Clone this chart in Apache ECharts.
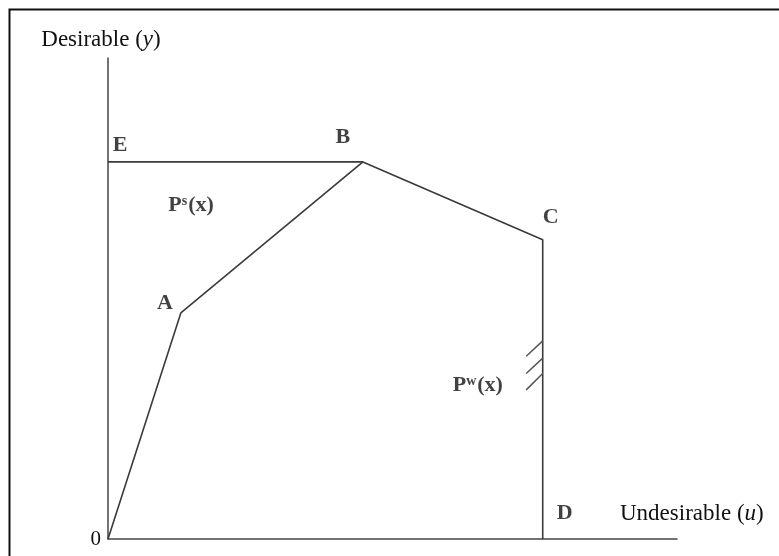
<!DOCTYPE html>
<html>
<head>
<meta charset="utf-8">
<script src="https://cdn.jsdelivr.net/npm/echarts@6/dist/echarts.min.js"></script>
<style>
  html, body { margin: 0; padding: 0; background: #fff; }
  #chart { width: 779px; height: 556px; }
</style>
</head>
<body>
<div id="chart"></div>
<script>
// points of the technology set, in (u, y) units
var pointNames = ['A', 'B', 'C', 'D', 'E'];
var pointU = [12.8, 44.8, 76.4, 76.4, 0];
var pointY = [47.0, 78.4, 62.2, 0, 78.4];

// frontier 0 -> A -> B -> C -> D
var frontierU = [0, 12.8, 44.8, 76.4, 76.4];
var frontierY = [0, 47.0, 78.4, 62.2, 0];

// horizontal line E -> B
var eLineU = [0, 44.8];
var eLineY = [78.4, 78.4];

// hatch marks on C-D segment (start u, start y, end u, end y)
var hatchU0 = [73.5, 73.5, 73.5];
var hatchY0 = [38.0, 34.4, 31.0];
var hatchU1 = [76.4, 76.4, 76.4];
var hatchY1 = [41.2, 37.6, 34.4];

// set labels P^s(x), P^w(x)
var regionSup = ['s', 'w'];
var regionU = [14.6, 65.0];
var regionY = [69.4, 32.0];

var serif = 'Liberation Serif';
var lineColor = '#3a3a3a';

var labelOffset = {
  A: [-16, -10],
  B: [-20, -25],
  C: [8, -23],
  D: [22, -26],
  E: [12, -17]
};

var chart = echarts.init(document.getElementById('chart'));

function pairs(us, ys) {
  return us.map(function (u, i) { return [u, ys[i]]; });
}

var hatchSeries = hatchU0.map(function (u, i) {
  return {
    type: 'line',
    data: [[u, hatchY0[i]], [hatchU1[i], hatchY1[i]]],
    symbol: 'none',
    silent: true,
    lineStyle: { color: '#555', width: 1.5 }
  };
});

var option = {
  animation: false,
  backgroundColor: '#fff',
  textStyle: { fontFamily: serif },
  grid: { left: 108, right: 102, top: 58, bottom: 17 },
  xAxis: {
    type: 'value',
    min: 0,
    max: 100,
    name: '{n|Undesirable (}{i|u}{n|)}',
    nameLocation: 'end',
    nameGap: -57,
    nameTextStyle: {
      align: 'left',
      verticalAlign: 'bottom',
      padding: [0, 0, 14, 0],
      rich: {
        n: { fontFamily: serif, fontSize: 23, color: '#111' },
        i: { fontFamily: serif, fontSize: 23, color: '#111', fontStyle: 'italic' }
      }
    },
    axisLine: { show: true, lineStyle: { color: '#444', width: 1.5 } },
    axisTick: { show: false },
    axisLabel: { show: false },
    splitLine: { show: false }
  },
  yAxis: {
    type: 'value',
    min: 0,
    max: 100,
    interval: 100,
    name: '{n|Desirable (}{i|y}{n|)}',
    nameLocation: 'end',
    nameGap: 7,
    nameTextStyle: {
      padding: [0, 14, 0, 0],
      rich: {
        n: { fontFamily: serif, fontSize: 23, color: '#111' },
        i: { fontFamily: serif, fontSize: 23, color: '#111', fontStyle: 'italic' }
      }
    },
    axisLine: { show: true, lineStyle: { color: '#444', width: 1.5 } },
    axisTick: { show: false },
    axisLabel: {
      show: true,
      margin: 7,
      fontFamily: serif,
      fontSize: 21,
      color: '#111',
      padding: [5, 0, 0, 0],
      formatter: function (v) { return v === 0 ? '0' : ''; }
    },
    splitLine: { show: false }
  },
  graphic: [
    {
      type: 'rect',
      silent: true,
      shape: { x: 9.5, y: 9.5, width: 900, height: 700 },
      style: { fill: 'none', stroke: '#111', lineWidth: 2 }
    }
  ],
  series: [
    {
      type: 'line',
      data: pairs(frontierU, frontierY),
      symbol: 'none',
      silent: true,
      lineStyle: { color: lineColor, width: 1.6 }
    },
    {
      type: 'line',
      data: pairs(eLineU, eLineY),
      symbol: 'none',
      silent: true,
      lineStyle: { color: lineColor, width: 1.6 }
    },
    {
      type: 'scatter',
      symbolSize: 0,
      silent: true,
      data: pointNames.map(function (n, i) {
        return {
          name: n,
          value: [pointU[i], pointY[i]],
          label: { offset: labelOffset[n] }
        };
      }),
      label: {
        show: true,
        position: 'inside',
        formatter: '{b}',
        fontFamily: serif,
        fontSize: 22,
        fontWeight: 'bold',
        color: '#111'
      }
    },
    {
      type: 'scatter',
      symbolSize: 0,
      silent: true,
      data: regionSup.map(function (s, i) {
        return { name: s, value: [regionU[i], regionY[i]] };
      }),
      label: {
        show: true,
        position: 'inside',
        formatter: '{p|P}{sup|{b}}{p|(x)}',
        rich: {
          p: { fontFamily: serif, fontSize: 22, fontWeight: 'bold', color: '#111' },
          sup: { fontFamily: serif, fontSize: 14, fontWeight: 'bold', color: '#111', verticalAlign: 'top', padding: [0, 1, 8, 0] }
        }
      }
    }
  ].concat(hatchSeries)
};

chart.setOption(option);
</script>
</body>
</html>
